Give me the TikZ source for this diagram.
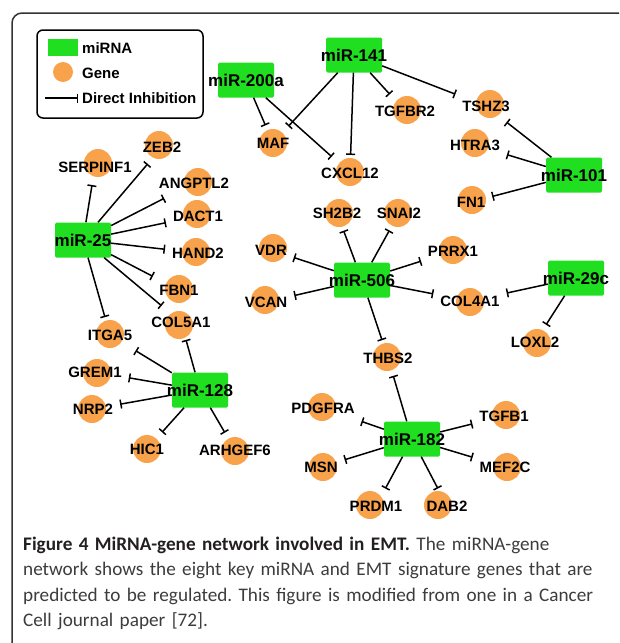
\documentclass[tikz,border=0pt]{standalone}
\usepackage{fontspec}
\newfontfamily\netfont{Liberation Sans}
\newfontfamily\capfont{Carlito}
\usepackage{tikz}
\usetikzlibrary{arrows.meta, positioning}
\definecolor{MirGreen}{HTML}{20DF20}
\definecolor{GeneOrange}{HTML}{F9A24C}
\definecolor{FrameGray}{HTML}{333333}
\definecolor{CapGray}{HTML}{3C3C3C}
\definecolor{CapBlack}{HTML}{231F20}
\newcommand{\mirlab}[1]{\makebox[0pt]{#1}}
\tikzset{
  mirna/.style={rectangle, rounded corners=1.5pt, fill=MirGreen, minimum width=56pt, minimum height=35pt, inner sep=0pt, font=\netfont\bfseries\fontsize{17}{17}\selectfont},
  genedot/.style={circle, fill=GeneOrange, minimum size=28pt, inner sep=0pt},
  genetext/.style={inner xsep=2pt, inner ysep=7.5pt, text height=10.7pt, text depth=0pt, font=\netfont\bfseries\fontsize{15}{15}\selectfont},
  legtext/.style={anchor=west, inner sep=0pt, font=\netfont\bfseries\fontsize{15}{15}\selectfont},
  inhibit/.style={-{Bar[width=9pt]}, line width=1.5pt, shorten >=5pt},
  captext/.style={anchor=north west, inner sep=0pt, text width=600pt, align=left, text=CapGray, font=\capfont\frenchspacing\fontsize{19.2}{25.3}\selectfont}
}
\begin{document}
\begin{tikzpicture}[x=1pt, y=-1pt]
  \useasboundingbox (0,0) rectangle (619,643);

  % Frame
  \begin{scope}
    \clip (0,0) rectangle (619,643);
    \draw[line width=1.5pt, FrameGray, rounded corners=10pt] (12,13) rectangle (640,660);
  \end{scope}

  % Legend
  \draw[line width=1.5pt, rounded corners=6pt] (37,30) rectangle (203,118);
  \node[fill=MirGreen, minimum width=30pt, minimum height=17pt, inner sep=0pt] (leg-mirna) at (63,47.5) {};
  \node[genedot, minimum size=20pt] (leg-gene) at (63,72) {};
  \coordinate (leg-a) at (45,98);
  \coordinate (leg-b) at (78,98);
  \draw[inhibit, shorten >=0pt] (leg-a) -- (leg-b);
  \node[legtext] (leg-mirna-t) at (82,48) {miRNA};
  \node[legtext] (leg-gene-t) at (82,73) {Gene};
  \node[legtext] (leg-inh-t) at (82,98) {Direct Inhibition};

  % Genes: circle, then label
  \foreach \n/\cx/\cy/\lx/\ly/\t in {
      serpinf1/98/163/95/167/SERPINF1, zeb2/159/145/162/147/ZEB2,
      angptl2/198/182/194/183/ANGPTL2, dact1/197/214/198/216/DACT1,
      hand2/196/252/198/253/HAND2, fbn1/179/289/179/290/FBN1,
      col5a1/179/325/181/322/COL5A1, itga5/110/334/110/335/ITGA5,
      grem1/97/373/95/372/GREM1, nrp2/92/409/93/409/NRP2,
      hic1/147/449/147/449/HIC1, arhgef6/235/451/235/450/ARHGEF6,
      vdr/273/248/271/250/VDR, vcan/265/300/266/302/VCAN,
      maf/273/143/273/143/MAF, cxcl12/350/172/350/173/CXCL12,
      tgfbr2/407/110/405/111/TGFBR2, tshz3/490/104/486/106/TSHZ3,
      htra3/475/143/475/145/HTRA3, fn1/472/200/471/202/FN1,
      sh2b2/339/213/337/213/SH2B2, snai2/398/213/399/213/SNAI2,
      prrx1/453/250/453/251/PRRX1, col4a1/470/302/470/301/COL4A1,
      loxl2/537/343/535/342/LOXL2, thbs2/387/357/388/358/THBS2,
      pdgfra/322/407/323/408/PDGFRA, tgfb1/506/415/504/416/TGFB1,
      msn/323/467/321/467/MSN, mef2c/507/467/505/467/MEF2C,
      prdm1/370/505/376/506/PRDM1, dab2/438/505/447/506/DAB2} {
    \node[genedot] (\n-dot) at (\cx,\cy) {};
    \node[genetext] (\n) at (\lx,\ly) {\t};
  }

  % miRNAs
  \node[mirna] (mir200a) at (246,80) {\mirlab{miR-200a}};
  \node[mirna] (mir141) at (354,55) {\mirlab{miR-141}};
  \node[mirna] (mir101) at (574,175) {\mirlab{miR-101}};
  \node[mirna] (mir25) at (83,240) {\mirlab{miR-25}};
  \node[mirna] (mir128) at (200,390) {\mirlab{miR-128}};
  \node[mirna] (mir506) at (362,280) {\mirlab{miR-506}};
  \node[mirna] (mir29c) at (576,278) {\mirlab{miR-29c}};
  \node[mirna] (mir182) at (412,439) {\mirlab{miR-182}};

  % Inhibitions
  \foreach \s/\t in {
      mir200a/maf, mir200a/cxcl12, mir141/maf, mir141/cxcl12, mir141/tgfbr2, mir141/tshz3,
      mir101/tshz3, mir101/htra3, mir101/fn1,
      mir25/serpinf1, mir25/zeb2, mir25/angptl2, mir25/dact1, mir25/hand2, mir25/fbn1, mir25/col5a1, mir25/itga5,
      mir128/itga5, mir128/col5a1, mir128/grem1, mir128/nrp2, mir128/hic1, mir128/arhgef6,
      mir506/sh2b2, mir506/snai2, mir506/prrx1, mir506/col4a1, mir506/thbs2, mir506/vdr, mir506/vcan,
      mir29c/col4a1, mir29c/loxl2,
      mir182/thbs2, mir182/pdgfra, mir182/tgfb1, mir182/msn, mir182/mef2c, mir182/prdm1, mir182/dab2} {
    \draw[inhibit] (\s) -- (\t);
  }

  % Caption
  \node[captext] (caption) at (23,537) {{\bfseries\color{CapBlack}Figure 4 MiRNA-gene network involved in EMT.} The miRNA-gene\\
    network shows the eight key miRNA and EMT signature genes that are\\
    predicted to be regulated. This figure is modified from one in a Cancer\\
    Cell journal paper [72].};
\end{tikzpicture}
\end{document}
